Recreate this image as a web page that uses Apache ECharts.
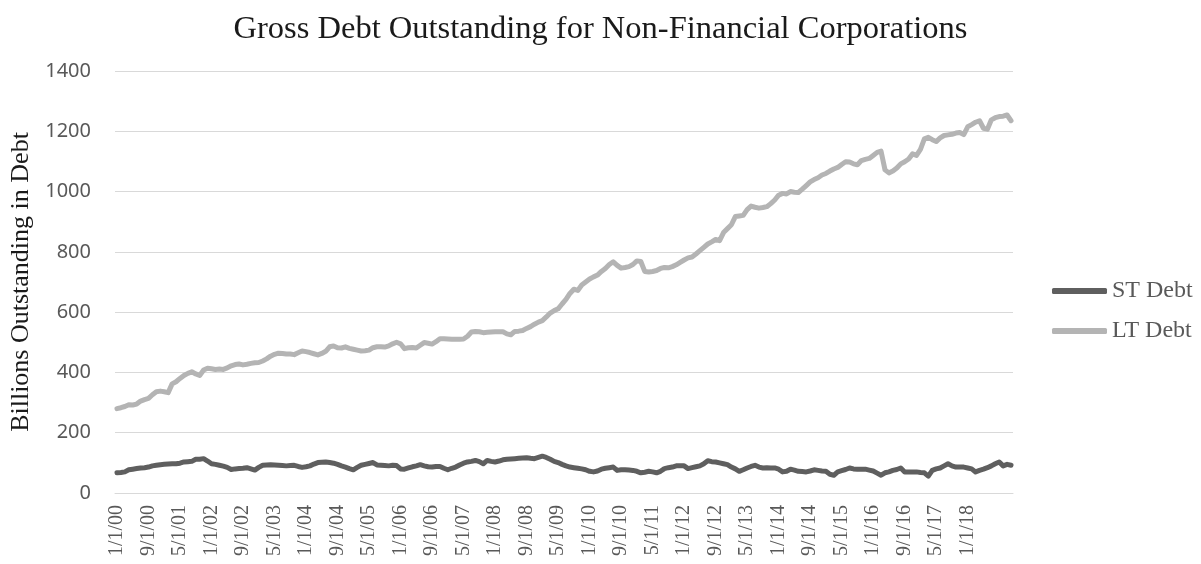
<!DOCTYPE html>
<html>
<head>
<meta charset="utf-8">
<script src="https://cdn.jsdelivr.net/npm/echarts@6/dist/echarts.min.js"></script>
<style>
html,body{margin:0;padding:0;background:#fff;}
#chart{width:1201px;height:564px;}
</style>
</head>
<body>
<div id="chart"></div>
<script>
// Monthly categories Jan 2000 .. Dec 2018, labelled M/1/YY
const months = [];
for (let y = 2000; y <= 2018; y++) {
  for (let m = 1; m <= 12; m++) {
    months.push(m + '/1/' + String(y % 100).padStart(2, '0'));
  }
}
// labels shown every 8 months, from 1/1/00 to 1/1/18
const labelStep = 8;
const lastLabel = '1/1/18';

const stDebt = [
  67, 68, 70, 77, 79, 81, 83, 84, 86, 90, 92, 94,
  95, 96, 97, 97, 99, 103, 104, 105, 112, 112, 114, 106,
  97, 95, 92, 89, 85, 78, 80, 81, 82, 84, 80, 76,
  85, 92, 93, 94, 93, 92, 91, 90, 91, 92, 88, 85,
  87, 90, 96, 101, 102, 103, 101, 99, 95, 90, 86, 81,
  77, 85, 92, 95, 98, 101, 93, 92, 91, 90, 92, 91,
  80, 79, 83, 87, 90, 94, 90, 87, 86, 88, 88, 82,
  77, 82, 86, 93, 99, 103, 105, 108, 104, 97, 108, 105,
  103, 106, 110, 112, 113, 114, 115, 116, 117, 115, 114, 118,
  122, 118, 112, 105, 101, 95, 90, 86, 84, 82, 80, 77,
  72, 70, 73, 79, 82, 84, 86, 75, 77, 77, 76, 75,
  72, 67, 69, 72, 70, 67, 72, 81, 84, 86, 90, 90,
  90, 81, 84, 87, 90, 97, 107, 104, 103, 100, 97, 94,
  86, 80, 72, 77, 83, 88, 92, 86, 83, 84, 83, 83,
  79, 70, 72, 79, 76, 72, 71, 70, 73, 77, 75, 73,
  72, 62, 59, 70, 74, 78, 83, 80, 79, 79, 79, 76,
  73, 66, 59, 67, 70, 75, 78, 83, 70, 70, 70, 70,
  68, 67, 56, 75, 80, 83, 90, 97, 90, 86, 86, 86,
  83, 80, 70, 75, 79, 84, 90, 97, 103, 90, 95, 92
];

const ltDebt = [
  280, 283, 287, 293, 292, 295, 305, 310, 314, 326, 336, 338,
  336, 333, 362, 369, 380, 390, 397, 402, 395, 390, 408, 414,
  412, 410, 411, 410, 415, 422, 426, 428, 425, 427, 430, 432,
  433, 438, 445, 454, 460, 464, 463, 461, 461, 459, 465, 471,
  469, 466, 462, 458, 463, 470, 485, 488, 482, 481, 485, 480,
  477, 474, 471, 472, 474, 482, 485, 485, 484, 488, 495, 500,
  495, 479, 482, 483, 481, 490, 499, 497, 494, 502, 512, 512,
  511, 510, 510, 510, 511, 520, 534, 536, 535, 532, 533, 534,
  535, 535, 535, 528, 525, 536, 537, 539, 546, 552, 560, 567,
  572, 584, 597, 605, 611, 627, 642, 662, 676, 672, 690, 700,
  710, 717, 723, 735, 745, 758, 767, 755, 746, 748, 751, 758,
  770, 768, 735, 733, 735, 738, 745, 748, 747, 751, 757, 765,
  773, 780, 783, 793, 804, 815, 826, 833, 841, 837, 864, 877,
  890, 917, 919, 921, 940, 952, 948, 945, 947, 950, 960, 972,
  988, 994, 992, 1000, 998, 997, 1008, 1020, 1032, 1040, 1046, 1055,
  1060, 1068, 1075, 1080, 1090, 1099, 1098, 1092, 1089, 1103, 1107, 1110,
  1120, 1130, 1134, 1072, 1062, 1068, 1078, 1092, 1099, 1108, 1125, 1120,
  1140, 1175, 1180, 1172, 1166, 1178, 1186, 1188, 1190, 1194, 1196, 1189,
  1215, 1222, 1230, 1235, 1210, 1207, 1238, 1245, 1249, 1250, 1254, 1235
];

const seriesNames = ['ST Debt', 'LT Debt'];
const yTicks = { min: 0, max: 1400, interval: 200 };

const lastLabelIndex = months.indexOf(lastLabel);

const chart = echarts.init(document.getElementById('chart'));
chart.setOption({
  backgroundColor: '#ffffff',
  animation: false,
  title: {
    text: 'Gross Debt Outstanding for Non-Financial Corporations',
    left: 'center',
    top: 8,
    textStyle: {
      fontFamily: 'Liberation Serif',
      fontWeight: 'normal',
      fontSize: 32.5,
      color: '#1a1a1a'
    }
  },
  legend: {
    orient: 'vertical',
    left: 1047,
    top: 274,
    itemWidth: 55,
    itemHeight: 6,
    itemGap: 16,
    icon: 'roundRect',
    textStyle: {
      fontFamily: 'Liberation Serif',
      fontSize: 24,
      color: '#595959'
    },
    data: seriesNames
  },
  grid: {
    left: 115,
    right: 188,
    top: 71,
    bottom: 71,
    containLabel: false
  },
  xAxis: {
    type: 'category',
    data: months,
    boundaryGap: true,
    axisLine: { show: true, lineStyle: { color: '#d9d9d9', width: 1 } },
    axisTick: { show: false },
    axisLabel: {
      interval: function (idx) {
        return idx % labelStep === 0 && idx <= lastLabelIndex;
      },
      rotate: 90,
      margin: 12,
      fontFamily: 'Liberation Serif',
      fontSize: 20,
      color: '#595959'
    },
    splitLine: { show: false }
  },
  yAxis: {
    type: 'value',
    min: yTicks.min,
    max: yTicks.max,
    interval: yTicks.interval,
    name: 'Billions Outstanding in Debt',
    nameLocation: 'middle',
    nameGap: 80,
    nameRotate: 90,
    nameTextStyle: {
      fontFamily: 'Liberation Serif',
      fontSize: 26,
      color: '#1a1a1a'
    },
    axisLine: { show: false },
    axisTick: { show: false },
    axisLabel: {
      margin: 24,
      fontFamily: 'Noto Sans',
      fontSize: 20,
      color: '#595959',
      formatter: function (v) { return String(v); }
    },
    splitLine: { lineStyle: { color: '#d9d9d9', width: 1 } }
  },
  series: [
    {
      name: seriesNames[0],
      type: 'line',
      data: stDebt,
      showSymbol: false,
      symbol: 'none',
      color: '#5f5f5f',
      lineStyle: { width: 5, color: '#5f5f5f', cap: 'round', join: 'round' },
      z: 3
    },
    {
      name: seriesNames[1],
      type: 'line',
      data: ltDebt,
      showSymbol: false,
      symbol: 'none',
      color: '#b4b4b4',
      lineStyle: { width: 5, color: '#b4b4b4', cap: 'round', join: 'round' },
      z: 2
    }
  ]
});
</script>
</body>
</html>
